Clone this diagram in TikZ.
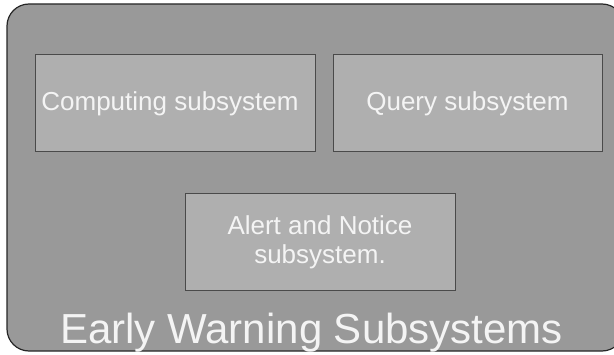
\documentclass[tikz,border=0pt]{standalone}
\usepackage{fontspec}
\setmainfont{Liberation Sans}
\usetikzlibrary{positioning}
\definecolor{panelgray}{HTML}{999999}
\definecolor{boxgray}{HTML}{AFAFAF}
\definecolor{edgegray}{HTML}{4A4A4A}
\definecolor{labelwhite}{HTML}{F4F4F4}
\begin{document}
\begin{tikzpicture}[x=1pt,y=1pt,
  every node/.style={font=\fontsize{26}{29}\selectfont,text=labelwhite},
  panel/.style={draw=black!85,line width=1.2pt,fill=panelgray,rounded corners=22pt},
  sub/.style={draw=edgegray,line width=1pt,fill=boxgray,minimum height=97pt,inner sep=0pt,align=center}]
\useasboundingbox (0,0) rectangle (614,354);
\clip (0,0) rectangle (614,354);
\draw[panel] (7,3) rectangle (624,350);
\node[sub,minimum width=280pt] (computing) at (175,250.5) {Computing subsystem\hspace*{10pt}};
\node[sub,minimum width=269pt,right=17pt of computing] (query) {Query subsystem};
\node[sub,minimum width=270pt] (alert) at (320,111.5) {Alert and Notice\\subsystem.};
\node[font=\fontsize{42}{46}\selectfont,anchor=base] (title) at (311.5,11) {Early Warning Subsystems};
\end{tikzpicture}
\end{document}
